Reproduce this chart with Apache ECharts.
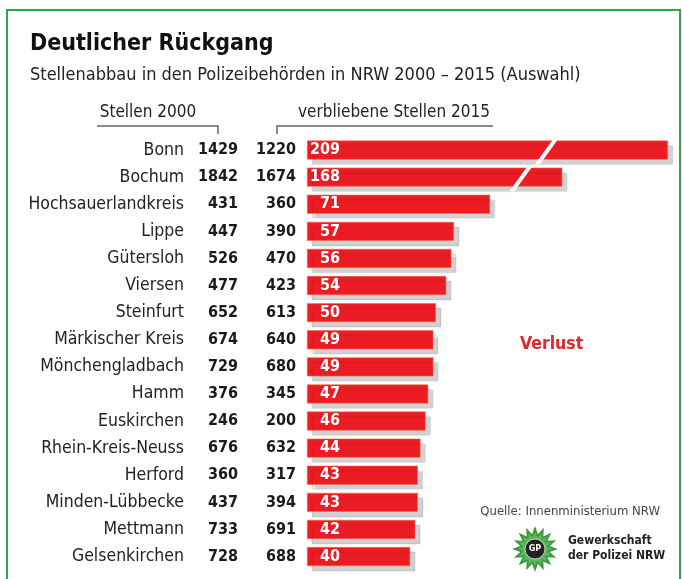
<!DOCTYPE html>
<html><head><meta charset="utf-8">
<script src="https://cdn.jsdelivr.net/npm/echarts@6/dist/echarts.min.js"></script>
<style>html,body{margin:0;padding:0;background:#fff}#c{width:682px;height:579px}</style>
</head><body><div id="c"></div>
<script>
const categories = ['Bonn','Bochum','Hochsauerlandkreis','Lippe','Gütersloh','Viersen','Steinfurt','Märkischer Kreis','Mönchengladbach','Hamm','Euskirchen','Rhein-Kreis-Neuss','Herford','Minden-Lübbecke','Mettmann','Gelsenkirchen'];
const stellen2000 = [1429,1842,431,447,526,477,652,674,729,376,246,676,360,437,733,728];
const stellen2015 = [1220,1674,360,390,470,423,613,640,680,345,200,632,317,394,691,688];
const verlust = [209,168,71,57,56,54,50,49,49,47,46,44,43,43,42,40];
// axis break (bars too long to show in full) and where the slash marks sit
const axisBreak = { start: 80, end: 149 };
const breakMarks = [[161, 0], [151, 1]];

const FN = "'Liberation Sans Narrow','DejaVu Sans Condensed','Liberation Sans',sans-serif";
const chart = echarts.init(document.getElementById('c'));

function starPoints(cx, cy, rO, rI, n) {
  const pts = [];
  for (let i = 0; i < n * 2; i++) {
    const r = i % 2 === 0 ? rO : rI;
    const a = Math.PI * i / n - Math.PI / 2;
    pts.push([cx + r * Math.cos(a), cy + r * Math.sin(a)]);
  }
  return pts;
}

const yBase = {
  type: 'category', data: categories, inverse: true, position: 'left', offset: 0,
  axisLine: { show: false }, axisTick: { show: false }, splitLine: { show: false }
};

chart.setOption({
  animation: false,
  grid: { left: 307, right: 14, top: 136.5, height: 433.6, containLabel: false },
  xAxis: {
    type: 'value', min: 0, max: 209, show: false,
    breaks: [{ start: axisBreak.start, end: axisBreak.end, gap: '0%' }],
    breakArea: { show: false }
  },
  yAxis: [
    Object.assign({}, yBase, { axisLabel: { margin: 123, fontFamily: FN, fontSize: 17.5, color: '#222' } }),
    Object.assign({}, yBase, { data: stellen2000.map(String), axisLabel: { margin: 69, fontFamily: FN, fontSize: 16, fontWeight: 'bold', color: '#1a1a1a' } }),
    Object.assign({}, yBase, { data: stellen2015.map(String), axisLabel: { margin: 11, fontFamily: FN, fontSize: 16, fontWeight: 'bold', color: '#1a1a1a' } })
  ],
  series: [
    {
      type: 'bar', data: verlust, barWidth: 19,
      itemStyle: { color: '#ec1c24', borderColor: '#f06a45', borderWidth: 0.6,
        shadowColor: 'rgba(0,0,0,0.18)', shadowBlur: 1, shadowOffsetX: 5, shadowOffsetY: 5 },
      label: { show: true, position: [33, '50%'], align: 'right', verticalAlign: 'middle',
        color: '#fff', fontFamily: FN, fontSize: 16, fontWeight: 'bold' }
    },
    {
      type: 'custom', data: breakMarks, z: 5,
      renderItem: function (params, api) {
        const p = api.coord([api.value(0), api.value(1)]);
        const top = p[1] - 11, bot = p[1] + 14;
        return { type: 'polygon', shape: { points: [[p[0] + 9, top], [p[0] + 14, top], [p[0] - 4, bot], [p[0] - 9, bot]] },
          style: { fill: '#fff' } };
      }
    }
  ],
  graphic: [
    { type: 'rect', shape: { x: 7, y: 10, width: 673, height: 600 }, style: { fill: 'none', stroke: '#2aa845', lineWidth: 2 } },
    { type: 'text', left: 30, top: 33, style: { text: 'Deutlicher Rückgang', font: 'bold 23px ' + FN, fill: '#111' } },
    { type: 'text', left: 30, top: 66, style: { text: 'Stellenabbau in den Polizeibehörden in NRW 2000 – 2015 (Auswahl)', font: '18px ' + FN, fill: '#222' } },
    { type: 'text', x: 148, y: 113, style: { text: 'Stellen 2000', font: '17px ' + FN, fill: '#222', align: 'center', verticalAlign: 'middle' } },
    { type: 'text', x: 394, y: 113, style: { text: 'verbliebene Stellen 2015', font: '17px ' + FN, fill: '#222', align: 'center', verticalAlign: 'middle' } },
    { type: 'polyline', shape: { points: [[97, 126], [218, 126], [218, 134]] }, style: { stroke: '#666', lineWidth: 1.5, fill: 'none' } },
    { type: 'polyline', shape: { points: [[493, 126], [277, 126], [277, 134]] }, style: { stroke: '#666', lineWidth: 1.5, fill: 'none' } },
    { type: 'text', x: 520, y: 344, style: { text: 'Verlust', font: 'bold 17.5px ' + FN, fill: '#e3262b', verticalAlign: 'middle' } },
    { type: 'text', x: 660, y: 512, style: { text: 'Quelle: Innenministerium NRW', font: '13px ' + FN, fill: '#444', align: 'right', verticalAlign: 'middle' } },
    { type: 'polygon', shape: { points: starPoints(535, 549, 23, 15, 16) }, style: { fill: '#3c9a3c' } },
    { type: 'polygon', shape: { points: starPoints(535, 549, 17, 12, 16) }, style: { fill: '#5cb85c' } },
    { type: 'circle', shape: { cx: 535, cy: 549, r: 10 }, style: { fill: '#222', stroke: '#ccc', lineWidth: 1 } },
    { type: 'text', x: 535, y: 549, style: { text: 'GP', font: 'bold 9px ' + FN, fill: '#fff', align: 'center', verticalAlign: 'middle' } },
    { type: 'text', x: 568, y: 541, style: { text: 'Gewerkschaft', font: 'bold 12px ' + FN, fill: '#222', verticalAlign: 'middle' } },
    { type: 'text', x: 568, y: 556, style: { text: 'der Polizei NRW', font: 'bold 12px ' + FN, fill: '#222', verticalAlign: 'middle' } }
  ]
});
</script></body></html>
